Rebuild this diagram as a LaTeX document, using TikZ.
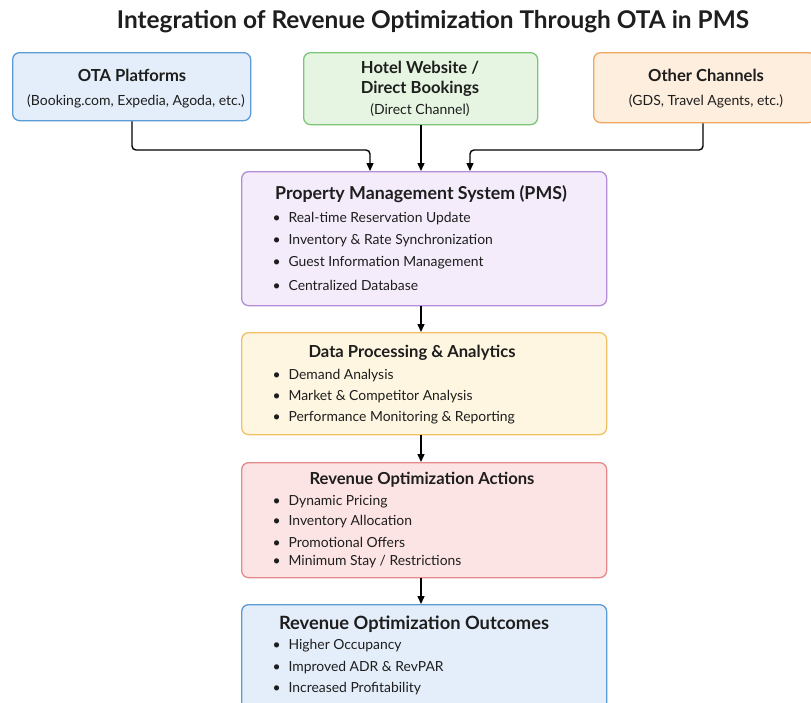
\documentclass[tikz,border=0pt]{standalone}
\usepackage{fontspec}
\setmainfont{Lato}
\usetikzlibrary{arrows.meta}
\definecolor{bluefill}{HTML}{E4EEFA}
\definecolor{blueline}{HTML}{5B9BD5}
\definecolor{greenfill}{HTML}{E6F5E1}
\definecolor{greenline}{HTML}{7CC679}
\definecolor{orangefill}{HTML}{FDEEDD}
\definecolor{orangeline}{HTML}{F0A762}
\definecolor{purplefill}{HTML}{F4ECFB}
\definecolor{purpleline}{HTML}{B58CD9}
\definecolor{yellowfill}{HTML}{FEF6E1}
\definecolor{yellowline}{HTML}{F2C163}
\definecolor{pinkfill}{HTML}{FDE4E4}
\definecolor{pinkline}{HTML}{E48A8A}
\definecolor{textcol}{HTML}{1E1E1E}
\tikzset{
  box/.style={draw, line width=1.3pt, rounded corners=7pt, anchor=north west, inner sep=0pt},
  ttl/.style={font=\fontsize{17.8}{20}\selectfont\bfseries, text=textcol},
  ttls/.style={font=\fontsize{16.6}{19}\selectfont\bfseries, text=textcol},
  sub/.style={font=\fontsize{14}{16}\selectfont, text=textcol},
  blt/.style={font=\fontsize{13.9}{16}\selectfont, text=textcol, anchor=west},
  conn/.style={line width=1.4pt, -{Triangle[length=8pt,width=7pt]}, rounded corners=4pt},
}
\newcommand{\bl}{\textbullet\hspace{8pt}}
\begin{document}
\begin{tikzpicture}[x=1pt,y=-1pt]
\useasboundingbox (0,0) rectangle (811,702);
\fill[white] (0,0) rectangle (811,702);
\node[font=\fontsize{24.4}{28}\selectfont\bfseries, text=textcol] (title) at (433,22) {Integration of Revenue Optimization Through OTA in PMS};

% top boxes
\node[box, fill=bluefill, draw=blueline, minimum width=238pt, minimum height=68pt] (ota) at (12,52) {};
\node[ttls] (otat) at (132,75) {OTA Platforms};
\node[sub] (otas) at (136,101) {(Booking.com, Expedia, Agoda, etc.)};

\node[box, fill=greenfill, draw=greenline, minimum width=234pt, minimum height=72pt] (web) at (303,52) {};
\node[ttls] (webt1) at (420,68) {Hotel Website /};
\node[ttls] (webt2) at (420,89) {Direct Bookings};
\node[sub] (webs) at (420,110) {(Direct Channel)};

\node[box, fill=orangefill, draw=orangeline, minimum width=222pt, minimum height=70pt] (oth) at (593,52) {};
\node[ttls] (otht) at (706,75) {Other Channels};
\node[sub] (oths) at (706,101) {(GDS, Travel Agents, etc.)};

% PMS
\node[box, fill=purplefill, draw=purpleline, minimum width=365pt, minimum height=134pt] (pms) at (241,171) {};
\node[ttl] (pmst) at (421,194) {Property Management System (PMS)};
\node[blt] (pms1) at (269,219) {\bl Real-time Reservation Update};
\node[blt] (pms2) at (269,241) {\bl Inventory \& Rate Synchronization};
\node[blt] (pms3) at (269,263) {\bl Guest Information Management};
\node[blt] (pms4) at (269,285) {\bl Centralized Database};

% Data
\node[box, fill=yellowfill, draw=yellowline, minimum width=365pt, minimum height=102pt] (dat) at (241,332) {};
\node[ttls] (datt) at (412,353) {Data Processing \& Analytics};
\node[blt] (dat1) at (269,376) {\bl Demand Analysis};
\node[blt] (dat2) at (269,397) {\bl Market \& Competitor Analysis};
\node[blt] (dat3) at (269,418) {\bl Performance Monitoring \& Reporting};

% Actions
\node[box, fill=pinkfill, draw=pinkline, minimum width=365pt, minimum height=115pt] (act) at (241,462) {};
\node[ttls] (actt) at (422,480) {Revenue Optimization Actions};
\node[blt] (act1) at (269,502) {\bl Dynamic Pricing};
\node[blt] (act2) at (269,522) {\bl Inventory Allocation};
\node[blt] (act3) at (269,542) {\bl Promotional Offers};
\node[blt] (act4) at (269,562) {\bl Minimum Stay / Restrictions};

% Outcomes
\node[box, fill=bluefill, draw=blueline, minimum width=365pt, minimum height=110pt] (out) at (241,604) {};
\node[font=\fontsize{18.3}{21}\selectfont\bfseries, text=textcol] (outt) at (414,624) {Revenue Optimization Outcomes};
\node[blt] (out1) at (269,646) {\bl Higher Occupancy};
\node[blt] (out2) at (269,668) {\bl Improved ADR \& RevPAR};
\node[blt] (out3) at (269,689) {\bl Increased Profitability};

% connectors
\coordinate (pin1) at (370,171);
\coordinate (pin3) at (470,171);
\draw[conn] (ota.south -| otat) |- (370,150) -- (pin1);
\draw[conn] (web.south -| 421,0) -- (pms.north -| 421,0);
\draw[conn] (oth.south -| 703,0) |- (470,150) -- (pin3);
\draw[conn] (pms.south -| 421,0) -- (dat.north -| 421,0);
\draw[conn] (dat.south -| 421,0) -- (act.north -| 421,0);
\draw[conn] (act.south -| 421,0) -- (out.north -| 421,0);
\end{tikzpicture}
\end{document}
